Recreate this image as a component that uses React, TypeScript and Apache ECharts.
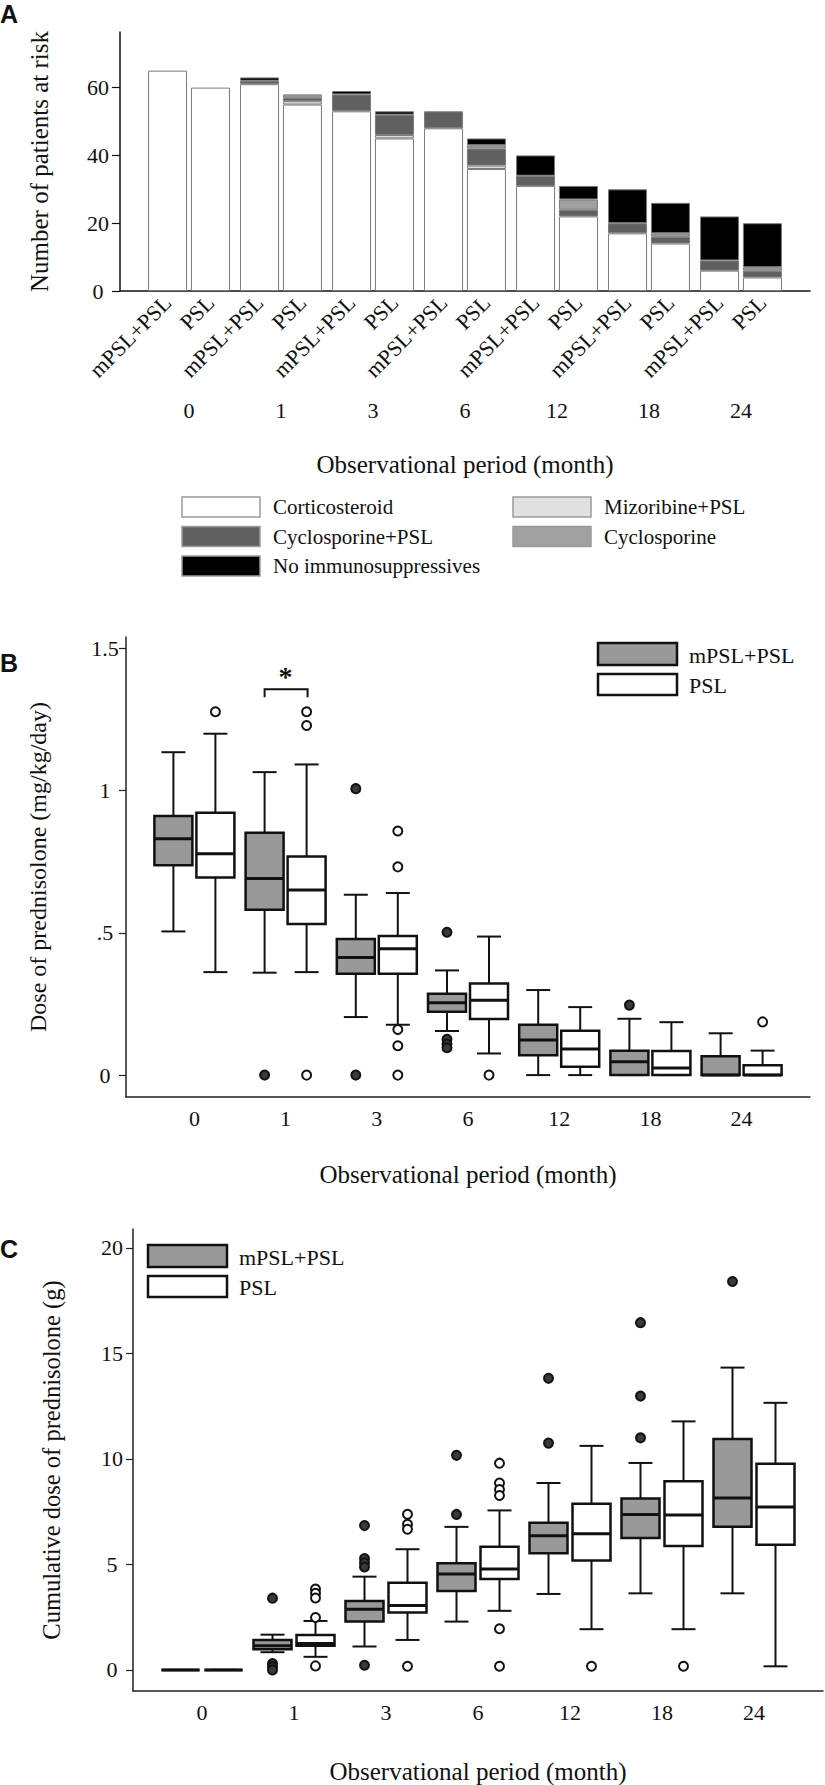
import React, { useEffect, useRef } from 'react';
import * as echarts from 'echarts';

// ---------- shared categories ----------
const months = ['0', '1', '3', '6', '12', '18', '24'];
const groupNames = ['mPSL+PSL', 'PSL'];
const treatments = ['Corticosteroid', 'Mizoribine+PSL', 'Cyclosporine+PSL', 'Cyclosporine', 'No immunosuppressives'];
const treatmentColors = ['#ffffff', '#e0e0e0', '#606060', '#a0a0a0', '#000000'];

// ---------- Panel A: number of patients at risk ----------
const riskCorticosteroidM = [65, 61, 53, 48, 31, 17, 6];
const riskMizoribineM = [0, 0, 0, 0, 0, 0, 0];
const riskCyclosporinePslM = [0, 1, 5, 5, 3, 3, 3];
const riskCyclosporineM = [0, 0, 0, 0, 0, 0, 0];
const riskNoneM = [0, 1, 1, 0, 6, 10, 13];

const riskCorticosteroidP = [60, 55, 45, 36, 22, 14, 4];
const riskMizoribineP = [0, 1, 1, 1, 0, 0, 0];
const riskCyclosporinePslP = [0, 1, 6, 5, 2, 2, 2];
const riskCyclosporineP = [0, 1, 0, 1, 3, 1, 1];
const riskNoneP = [0, 0, 1, 2, 4, 9, 13];

const riskTicks = [0, 20, 40, 60];

// ---------- Panel B: dose of prednisolone (mg/kg/day) [low, q1, median, q3, high] ----------
const doseBoxM = [
  [0.505, 0.738, 0.831, 0.911, 1.135],
  [0.36, 0.581, 0.691, 0.852, 1.065],
  [0.204, 0.356, 0.413, 0.478, 0.634],
  [0.155, 0.223, 0.254, 0.286, 0.368],
  [0, 0.07, 0.123, 0.177, 0.299],
  [0, 0, 0.047, 0.086, 0.198],
  [0, 0, 0, 0.066, 0.147],
];
const doseBoxP = [
  [0.362, 0.695, 0.778, 0.922, 1.2],
  [0.362, 0.531, 0.651, 0.768, 1.092],
  [0.177, 0.356, 0.444, 0.489, 0.64],
  [0.076, 0.197, 0.263, 0.322, 0.487],
  [0, 0.029, 0.092, 0.156, 0.239],
  [0, 0, 0.025, 0.085, 0.186],
  [0, 0, 0, 0.035, 0.086],
];
const doseOutliersM = [[1, 0], [2, 1.007], [2, 0], [3, 0.502], [3, 0.126], [3, 0.109], [3, 0.096], [5, 0.246]];
const doseOutliersP = [[0, 1.277], [1, 1.277], [1, 1.229], [1, 0], [2, 0.858], [2, 0.732], [2, 0.16], [2, 0.103], [2, 0], [3, 0], [6, 0.187]];
const doseTicks = [0, 0.5, 1, 1.5];
const doseTickLabels = ['0', '.5', '1', '1.5'];
const doseSignificance = [[1, 1.356, '*']];

// ---------- Panel C: cumulative dose of prednisolone (g) ----------
const cumBoxM = [
  [0, 0, 0, 0, 0],
  [0.84, 0.98, 1.14, 1.42, 1.67],
  [1.11, 2.3, 2.88, 3.27, 4.42],
  [2.29, 3.74, 4.55, 5.06, 6.78],
  [3.6, 5.53, 6.36, 6.98, 8.86],
  [3.63, 6.25, 7.37, 8.12, 9.81],
  [3.63, 6.78, 8.15, 10.95, 14.33],
];
const cumBoxP = [
  [0, 0, 0, 0, 0],
  [0.62, 1.15, 1.25, 1.65, 2.32],
  [1.42, 2.72, 3.05, 4.13, 5.72],
  [2.8, 4.31, 4.78, 5.84, 7.56],
  [1.93, 5.19, 6.45, 7.88, 10.62],
  [1.93, 5.87, 7.34, 8.94, 11.78],
  [0.17, 5.93, 7.72, 9.77, 12.66],
];
const cumOutliersM = [[1, 3.4], [1, 0.3], [1, 0.15], [1, 0], [2, 6.84], [2, 5.28], [2, 5.08], [2, 4.88], [2, 0.22], [3, 10.17], [3, 7.37], [4, 13.82], [4, 10.75], [5, 16.46], [5, 12.98], [5, 11.0], [6, 18.41]];
const cumOutliersP = [[1, 3.83], [1, 3.63], [1, 3.41], [1, 2.48], [1, 0.19], [2, 7.38], [2, 6.9], [2, 6.67], [2, 0.17], [3, 9.8], [3, 8.86], [3, 8.55], [3, 8.27], [3, 1.95], [3, 0.17], [4, 0.17], [5, 0.17]];
const cumTicks = [0, 5, 10, 15, 20];

const SERIF = "'Liberation Serif', 'Times New Roman', serif";
const SANS = "'Liberation Sans', Arial, sans-serif";
const INK = '#111';

function boxRender(fill: string, off: number) {
  return (params: any, api: any) => {
    const k = api.value(0);
    const cx = api.coord([k, 0])[0] + off;
    const y = (i: number) => api.coord([k, api.value(i)])[1];
    const yLo = y(1), yQ1 = y(2), yMed = y(3), yQ3 = y(4), yHi = y(5);
    const halfW = 19, capHalf = 12;
    const ls = { stroke: INK, lineWidth: 2 };
    return {
      type: 'group',
      children: [
        { type: 'line', shape: { x1: cx, y1: yHi, x2: cx, y2: yQ3 }, style: ls },
        { type: 'line', shape: { x1: cx, y1: yQ1, x2: cx, y2: yLo }, style: ls },
        { type: 'line', shape: { x1: cx - capHalf, y1: yHi, x2: cx + capHalf, y2: yHi }, style: ls },
        { type: 'line', shape: { x1: cx - capHalf, y1: yLo, x2: cx + capHalf, y2: yLo }, style: ls },
        { type: 'rect', shape: { x: cx - halfW, y: yQ3, width: 2 * halfW, height: yQ1 - yQ3 }, style: { fill, stroke: INK, lineWidth: 2.5 } },
        { type: 'line', shape: { x1: cx - halfW, y1: yMed, x2: cx + halfW, y2: yMed }, style: { stroke: INK, lineWidth: 3 } },
      ],
    };
  };
}

function outlierRender(fill: string, off: number) {
  return (params: any, api: any) => {
    const p = api.coord([api.value(0), api.value(1)]);
    return { type: 'circle', shape: { cx: p[0] + off, cy: p[1], r: 4.5 }, style: { fill, stroke: INK, lineWidth: 2 } };
  };
}

function boxSeries(xi: number, boxes: number[][], fill: string, off: number) {
  return {
    type: 'custom', xAxisIndex: xi, yAxisIndex: xi, silent: true,
    data: boxes.map((b, k) => [k, ...b]),
    encode: { x: 0, y: [1, 2, 3, 4, 5] },
    renderItem: boxRender(fill, off),
  };
}
function outlierSeries(xi: number, pts: number[][], fill: string, off: number) {
  return {
    type: 'custom', xAxisIndex: xi, yAxisIndex: xi, silent: true,
    data: pts,
    encode: { x: 0, y: 1 },
    renderItem: outlierRender(fill, off),
    z: 5,
  };
}

const monthAxis = (gridIndex: number, name: string, nameGap: number) => ({
  type: 'value', gridIndex, min: -0.75, max: 6.75,
  axisLine: { show: true, onZero: false, lineStyle: { color: '#222', width: 1.5 } },
  axisTick: { show: false },
  splitLine: { show: false },
  axisLabel: {
    customValues: [0, 1, 2, 3, 4, 5, 6],
    formatter: (v: number) => months[Math.round(v)] ?? '',
    fontSize: 22, fontFamily: SERIF, color: INK, margin: 10,
  },
  name, nameLocation: 'middle', nameGap,
  nameTextStyle: { fontSize: 25, fontFamily: SERIF, color: INK },
});

function buildOption() {
  const riskM = [riskCorticosteroidM, riskMizoribineM, riskCyclosporinePslM, riskCyclosporineM, riskNoneM];
  const riskP = [riskCorticosteroidP, riskMizoribineP, riskCyclosporinePslP, riskCyclosporineP, riskNoneP];
  const barSeries: any[] = [];
  ([['m', riskM, groupNames[0]], ['p', riskP, groupNames[1]]] as any[]).forEach(([stack, arrs, label]) => {
    arrs.forEach((arr: number[], i: number) => {
      barSeries.push({
        type: 'bar', name: treatments[i], xAxisIndex: 1, yAxisIndex: 1, stack,
        barWidth: 39, barGap: '10%', silent: true,
        data: arr.map((v) => (v === 0 ? null : v)),
        itemStyle: { color: treatmentColors[i], borderColor: '#7a7a7a', borderWidth: 1 },
        label: i === 0 ? {
          show: true, position: 'bottom', distance: 8, rotate: 45,
          align: 'right', verticalAlign: 'middle',
          formatter: () => label, fontSize: 22, fontFamily: SERIF, color: INK,
        } : { show: false },
      });
    });
  });

  const legendA: any[] = [];
  treatments.forEach((t, i) => {
    const col = [0, 1, 0, 1, 0][i];
    const row = [0, 0, 1, 1, 2][i];
    const bx = col === 0 ? 182 : 513;
    const by = 497 + row * 29.5;
    legendA.push({ type: 'rect', shape: { x: bx, y: by, width: 78, height: 20 }, style: { fill: treatmentColors[i], stroke: '#9a9a9a', lineWidth: 1.5 } });
    legendA.push({ type: 'text', x: bx + 91, y: by + 10, style: { text: t, fontSize: 21, fontFamily: SERIF, fill: INK, align: 'left', verticalAlign: 'middle' } });
  });

  const boxLegend = (bx: number, by: number) => [
    { type: 'rect', shape: { x: bx, y: by, width: 79, height: 22 }, style: { fill: '#999999', stroke: INK, lineWidth: 2.5 } },
    { type: 'rect', shape: { x: bx, y: by + 31, width: 79, height: 21 }, style: { fill: '#ffffff', stroke: INK, lineWidth: 2.5 } },
    { type: 'text', x: bx + 91, y: by + 12, style: { text: groupNames[0], fontSize: 22, fontFamily: SERIF, fill: INK, align: 'left', verticalAlign: 'middle' } },
    { type: 'text', x: bx + 91, y: by + 42, style: { text: groupNames[1], fontSize: 22, fontFamily: SERIF, fill: INK, align: 'left', verticalAlign: 'middle' } },
  ];

  const letter = (t: string, y: number) => ({ type: 'text', x: 0, y, style: { text: t, fontSize: 25, fontWeight: 'bold', fontFamily: SANS, fill: INK, align: 'left', verticalAlign: 'middle' } });

  return {
    animation: false,
    backgroundColor: '#ffffff',
    grid: [
      { left: 120, top: 32, width: 690, height: 259 },
      { left: 143, top: 32, width: 644, height: 259 },
      { left: 126, top: 637, width: 684, height: 460 },
      { left: 133, top: 1229, width: 690, height: 469 },
    ],
    xAxis: [
      {
        type: 'value', gridIndex: 0, min: 0, max: 1,
        axisLine: { show: true, onZero: false, lineStyle: { color: '#111', width: 1.5 } },
        axisTick: { show: false }, axisLabel: { show: false }, splitLine: { show: false },
        name: 'Observational period (month)', nameLocation: 'middle', nameGap: 161,
        nameTextStyle: { fontSize: 25, fontFamily: SERIF, color: INK },
      },
      {
        type: 'category', gridIndex: 1, data: months,
        axisLine: { show: false }, axisTick: { show: false }, splitLine: { show: false },
        axisLabel: { fontSize: 22, fontFamily: SERIF, color: INK, margin: 108 },
      },
      monthAxis(2, 'Observational period (month)', 65),
      monthAxis(3, 'Observational period (month)', 68),
    ],
    yAxis: [
      {
        type: 'value', gridIndex: 0, min: 0, max: 76.4,
        axisLine: { show: true, onZero: false, lineStyle: { color: '#111', width: 1.5 } },
        axisTick: { show: true, length: 8, customValues: riskTicks, lineStyle: { color: '#111', width: 1.2 } },
        axisLabel: { customValues: riskTicks, fontSize: 22, fontFamily: SERIF, color: INK, margin: 22, align: 'center' },
        splitLine: { show: false },
        name: 'Number of patients at risk', nameLocation: 'middle', nameGap: 68,
        nameTextStyle: { fontSize: 25, fontFamily: SERIF, color: INK },
      },
      { type: 'value', gridIndex: 1, min: 0, max: 76.4, show: false },
      {
        type: 'value', gridIndex: 2, min: -0.077, max: 1.54,
        axisLine: { show: true, onZero: false, lineStyle: { color: '#222', width: 1.5 } },
        axisTick: { show: true, length: 7, customValues: doseTicks, lineStyle: { color: '#222', width: 1.2 } },
        axisLabel: {
          customValues: doseTicks, formatter: (v: number) => doseTickLabels[doseTicks.indexOf(v)] ?? '',
          fontSize: 22, fontFamily: SERIF, color: INK, margin: 21, align: 'center',
        },
        splitLine: { show: false },
        name: 'Dose of prednisolone (mg/kg/day)', nameLocation: 'middle', nameGap: 76,
        nameTextStyle: { fontSize: 24, fontFamily: SERIF, color: INK },
      },
      {
        type: 'value', gridIndex: 3, min: -1, max: 20.9,
        axisLine: { show: true, onZero: false, lineStyle: { color: '#222', width: 1.5 } },
        axisTick: { show: true, length: 7, customValues: cumTicks, lineStyle: { color: '#222', width: 1.2 } },
        axisLabel: { customValues: cumTicks, fontSize: 22, fontFamily: SERIF, color: INK, margin: 21, align: 'center' },
        splitLine: { show: false },
        name: 'Cumulative dose of prednisolone (g)', nameLocation: 'middle', nameGap: 69,
        nameTextStyle: { fontSize: 24.5, fontFamily: SERIF, color: INK },
      },
    ],
    series: [
      ...barSeries,
      boxSeries(2, doseBoxM, '#999999', -21),
      boxSeries(2, doseBoxP, '#ffffff', 21),
      outlierSeries(2, doseOutliersM, '#3a3a3a', -21),
      outlierSeries(2, doseOutliersP, '#ffffff', 21),
      {
        type: 'custom', xAxisIndex: 2, yAxisIndex: 2, silent: true,
        data: doseSignificance,
        encode: { x: 0, y: 1 },
        renderItem: (params: any, api: any) => {
          const p = api.coord([api.value(0), api.value(1)]);
          return {
            type: 'group',
            children: [
              { type: 'polyline', shape: { points: [[p[0] - 21, p[1] + 8], [p[0] - 21, p[1]], [p[0] + 22, p[1]], [p[0] + 22, p[1] + 8]] }, style: { stroke: INK, lineWidth: 2, fill: 'none' } },
              { type: 'text', x: p[0], y: p[1] - 13, style: { text: String(doseSignificance[params.dataIndex][2]), fontSize: 28, fontWeight: 'bold', fontFamily: SERIF, fill: INK, align: 'center', verticalAlign: 'middle' } },
            ],
          };
        },
      },
      boxSeries(3, cumBoxM, '#999999', -21.5),
      boxSeries(3, cumBoxP, '#ffffff', 21.5),
      outlierSeries(3, cumOutliersM, '#3a3a3a', -21.5),
      outlierSeries(3, cumOutliersP, '#ffffff', 21.5),
    ],
    graphic: [
      letter('A', 14),
      letter('B', 663),
      letter('C', 1249),
      ...legendA,
      ...boxLegend(598, 643),
      ...boxLegend(148, 1245),
    ],
  };
}

export default function App() {
  const ref = useRef<HTMLDivElement>(null);
  useEffect(() => {
    if (!ref.current) return;
    const chart = echarts.init(ref.current, undefined, { renderer: 'svg' });
    chart.setOption(buildOption() as any);
    return () => chart.dispose();
  }, []);
  return (
    <div
      ref={ref}
      style={{ position: 'absolute', left: 0, top: 0, width: 825, height: 1785, background: '#fff' }}
    />
  );
}
